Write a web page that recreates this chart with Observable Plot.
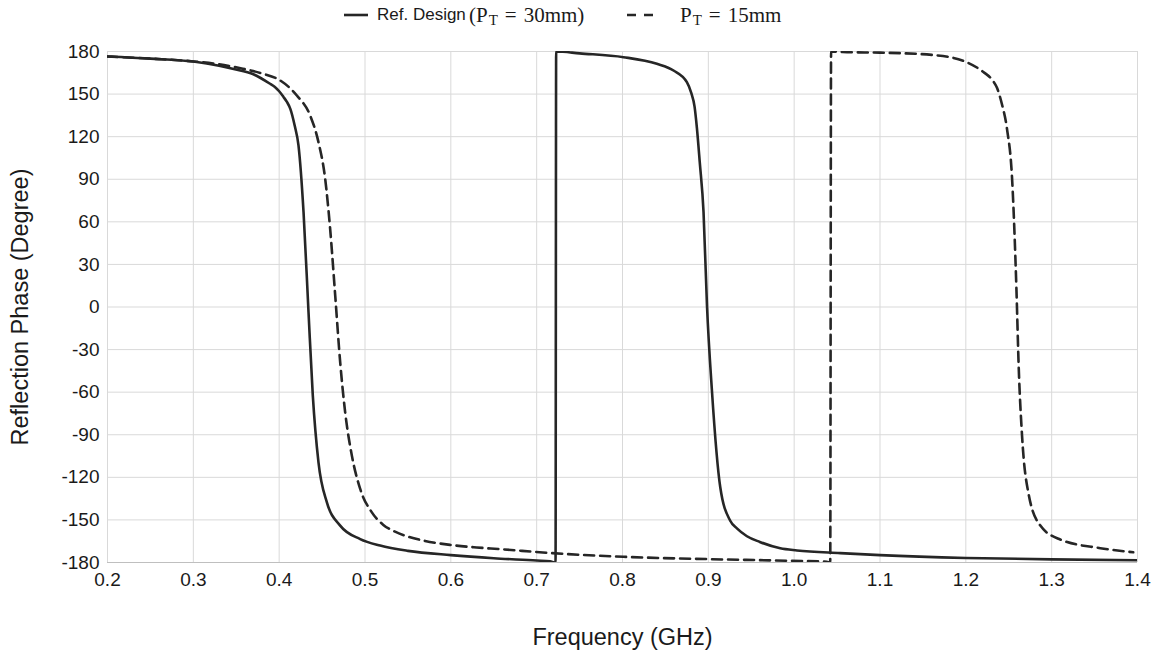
<!DOCTYPE html>
<html><head><meta charset="utf-8">
<script src="https://cdn.jsdelivr.net/npm/d3@7"></script>
<script src="https://cdn.jsdelivr.net/npm/@observablehq/plot@0.6"></script>
<style>
body{margin:0;background:#fff;font-family:"Liberation Sans",Arial,sans-serif;}
#wrap{position:relative;width:1160px;height:650px;overflow:hidden;}
#legend{position:absolute;left:0;top:0;width:1160px;height:30px;}
.li{position:absolute;top:0;height:30px;display:flex;align-items:center;white-space:nowrap;color:#1a1a1a;font-size:17px;}
.math{font-family:"Liberation Serif","DejaVu Serif",serif;font-size:21px;}
.math .sub{font-size:15px;position:relative;top:5px;margin-left:1px;}
.math .eq{margin:0 7px;}
#chart{position:absolute;left:0;top:30px;}
</style></head><body>
<div id="wrap"><div id="legend"></div><div id="chart"></div></div>
<script>
// Series: Ref. Design (P_T = 30mm)
const refFreq = [0.2, 0.25, 0.3, 0.33, 0.347, 0.37, 0.39, 0.395, 0.40, 0.405, 0.409, 0.413, 0.418, 0.4225, 0.4284, 0.4342, 0.4392, 0.4458, 0.4556, 0.4711, 0.4944, 0.5177, 0.55, 0.6, 0.65, 0.7, 0.7157, 0.722, 0.7227, 0.75, 0.8012, 0.84, 0.8594, 0.875, 0.88, 0.884, 0.8867, 0.89, 0.8944, 0.8984, 0.9042, 0.9139, 0.9255, 0.9333, 0.945, 0.96, 0.9838, 1.0033, 1.0537, 1.1, 1.2, 1.3, 1.4];
const refPhase = [176.5, 175, 172.9, 170, 167.7, 164, 157, 155, 152, 148, 144.5, 139.6, 128, 113.8, 66.8, -3.7, -62.4, -109.4, -137.6, -154, -163.5, -168.1, -171.8, -174.8, -177, -178.6, -179.2, -180, 180, 178.7, 176, 171.3, 166.6, 158.4, 151, 141, 126, 102, 67, 1.4, -59, -127, -150.6, -156, -161.5, -165.5, -170, -171.5, -173.4, -174.8, -176.8, -177.8, -178.4];
// Series: P_T = 15mm
const pt15Freq = [0.2, 0.25, 0.3, 0.33, 0.355, 0.38, 0.4012, 0.4206, 0.4361, 0.4458, 0.4536, 0.4594, 0.4653, 0.4711, 0.4769, 0.4847, 0.4944, 0.508, 0.5214, 0.535, 0.5487, 0.57, 0.599, 0.63, 0.6575, 0.7157, 0.8012, 0.8984, 0.9955, 1.038, 1.042, 1.043, 1.0654, 1.1, 1.1625, 1.2, 1.2208, 1.23, 1.2363, 1.242, 1.248, 1.2538, 1.2589, 1.2616, 1.2655, 1.2732, 1.2868, 1.31, 1.3567, 1.395];
const pt15Phase = [176.5, 175, 173, 171, 168.2, 164.5, 159.6, 149, 134.9, 116.1, 90.3, 55, 8, -39, -74.2, -104.7, -128.2, -144.7, -153.5, -158.3, -161.5, -164.8, -167.6, -169.4, -170.6, -173.3, -176, -177.6, -178.8, -179.5, -180, 180, 179.5, 179.2, 177.5, 172.7, 165.4, 160.5, 154.4, 143, 125.3, 91.3, 13.5, -42.3, -90.8, -132, -154, -163.8, -169.9, -172.8];

const xTicks = [0.2, 0.3, 0.4, 0.5, 0.6, 0.7, 0.8, 0.9, 1.0, 1.1, 1.2, 1.3, 1.4];
const yTicks = [-180, -150, -120, -90, -60, -30, 0, 30, 60, 90, 120, 150, 180];
const xTitle = "Frequency (GHz)";
const yTitle = "Reflection Phase (Degree)";

const refData = refFreq.map((f, i) => ({f, p: refPhase[i]}));
const pt15Data = pt15Freq.map((f, i) => ({f, p: pt15Phase[i]}));

const ink = "#262626";
const chart = Plot.plot({
  width: 1160, height: 620,
  marginLeft: 107, marginRight: 23, marginTop: 21, marginBottom: 88,
  style: {fontFamily: "'Liberation Sans', Arial, sans-serif", fontSize: "19px", color: "#1a1a1a", background: "#fff", overflow: "visible"},
  x: {domain: [0.2, 1.4]},
  y: {domain: [-180, 180]},
  marks: [
    Plot.gridX(xTicks, {stroke: "#d9d9d9", strokeOpacity: 1, strokeWidth: 1}),
    Plot.gridY(yTicks, {stroke: "#d9d9d9", strokeOpacity: 1, strokeWidth: 1}),
    Plot.ruleY([-180], {stroke: "#bfbfbf", strokeWidth: 1.2}),
    Plot.axisX(xTicks, {tickSize: 0, tickPadding: 10, tickFormat: d => d.toFixed(1), label: null, fontSize: 19}),
    Plot.axisY(yTicks, {tickSize: 0, tickPadding: 8, tickFormat: d => String(d), label: null, fontSize: 19}),
    Plot.line(refData, {x: "f", y: "p", stroke: ink, strokeWidth: 2.6, curve: "monotone-x", clip: true}),
    Plot.line(pt15Data, {x: "f", y: "p", stroke: ink, strokeWidth: 2.6, strokeDasharray: "10,6", curve: "monotone-x", clip: true}),
    Plot.text([yTitle], {text: d => d, frameAnchor: "left", textAnchor: "middle", lineAnchor: "middle", dx: -87, rotate: -90, fontSize: 23.5, fill: "#1a1a1a"}),
    Plot.text([xTitle], {text: d => d, frameAnchor: "bottom", textAnchor: "middle", lineAnchor: "middle", dy: 75, fontSize: 23.5, fill: "#1a1a1a"})
  ]
});
document.getElementById("chart").appendChild(chart);

// Legend
const legend = document.getElementById("legend");
legend.innerHTML = `
  <div class="li" style="left:344px"><svg width="24" height="30"><line x1="0" y1="15" x2="24" y2="15" stroke="${ink}" stroke-width="2.6"/></svg></div>
  <div class="li" style="left:377px">Ref. Design</div>
  <div class="li math" style="left:469px">(P<span class="sub">T</span><span class="eq">=</span>30mm)</div>
  <div class="li" style="left:627px"><svg width="26" height="30"><line x1="0" y1="15" x2="26" y2="15" stroke="${ink}" stroke-width="2.6" stroke-dasharray="9,8"/></svg></div>
  <div class="li math" style="left:680px">P<span class="sub">T</span><span class="eq">=</span>15mm</div>
`;
</script>
</body></html>
